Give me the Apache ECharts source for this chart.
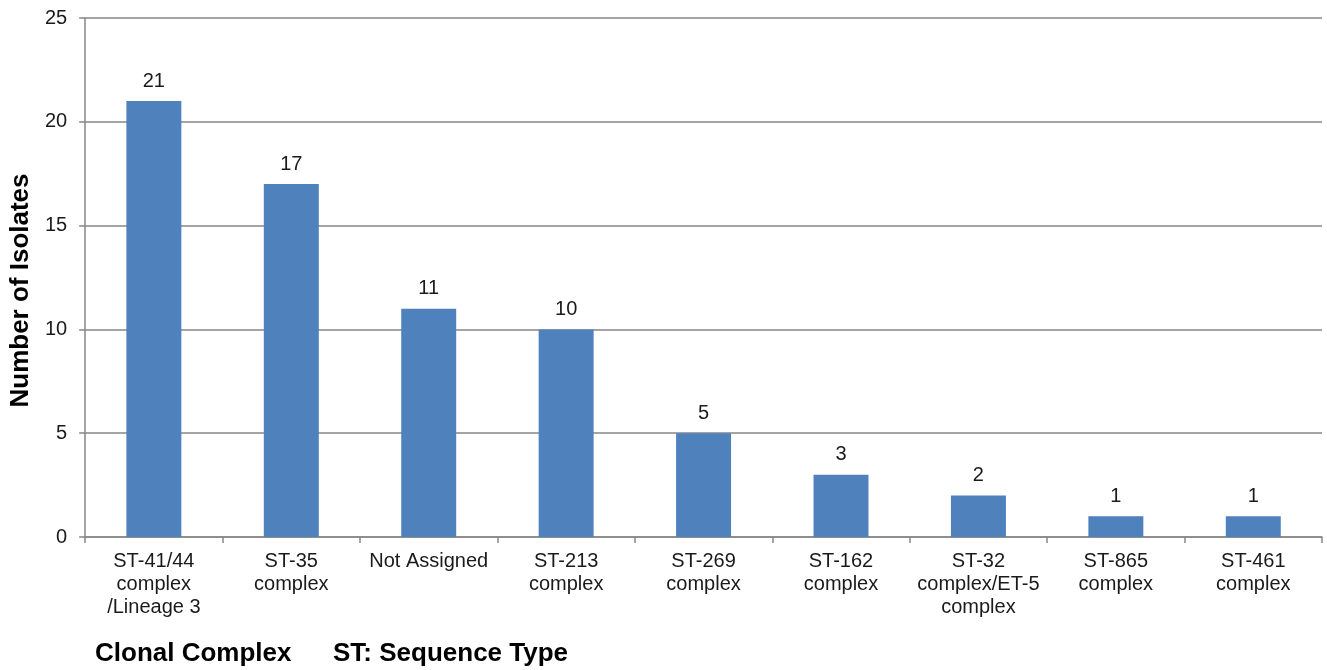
<!DOCTYPE html>
<html><head><meta charset="utf-8">
<script src="https://cdn.jsdelivr.net/npm/echarts@6/dist/echarts.min.js"></script>
<style>html,body{margin:0;padding:0;background:#fff}#c{width:1327px;height:670px}</style>
</head><body><div id="c"></div>
<script>
const categories = ["ST-41/44\ncomplex\n/Lineage 3", "ST-35\ncomplex", "Not Assigned", "ST-213\ncomplex", "ST-269\ncomplex", "ST-162\ncomplex", "ST-32\ncomplex/ET-5\ncomplex", "ST-865\ncomplex", "ST-461\ncomplex"];
const isolates = [21, 17, 11, 10, 5, 3, 2, 1, 1];
const yTicks = [0, 5, 10, 15, 20, 25];

const font = "'Liberation Sans', Arial, sans-serif";
const chart = echarts.init(document.getElementById('c'));
chart.setOption({
  animation: false,
  grid: {left: 84, right: 5, top: 18, bottom: 133, containLabel: false},
  xAxis: {
    type: 'category', data: categories,
    axisLine: {lineStyle: {color: '#868686', width: 1.5}},
    axisTick: {show: true, length: 6, lineStyle: {color: '#868686', width: 1.5}},
    axisLabel: {color: '#1a1a1a', fontSize: 20, fontFamily: font, lineHeight: 23, margin: 13, interval: 0}
  },
  yAxis: {
    type: 'value', min: 0, max: 25, interval: 5,
    name: 'Number of Isolates', nameLocation: 'middle', nameGap: 51,
    nameTextStyle: {fontSize: 26, fontWeight: 'bold', fontFamily: font, color: '#000', padding: [0, 26, 0, 0]},
    axisLine: {show: true, lineStyle: {color: '#868686', width: 1.5}},
    axisTick: {show: true, length: 6, lineStyle: {color: '#868686', width: 1.5}},
    splitLine: {lineStyle: {color: '#868686', width: 1.5}},
    axisLabel: {color: '#1a1a1a', fontSize: 20, fontFamily: font, margin: 18,
      formatter: v => yTicks.includes(v) ? String(v) : ''}
  },
  series: [{
    type: 'bar', data: isolates, barWidth: '40%',
    itemStyle: {color: '#4f81bd'},
    label: {show: true, position: 'top', distance: 10, color: '#1a1a1a', fontSize: 20, fontFamily: font}
  }],
  graphic: [{
    type: 'text', x: 95, y: 654,
    style: {text: 'Clonal Complex', font: "bold 26px 'Liberation Sans', Arial, sans-serif", fill: '#000', textVerticalAlign: 'middle'}
  }, {
    type: 'text', x: 333, y: 654,
    style: {text: 'ST: Sequence Type', font: "bold 26px 'Liberation Sans', Arial, sans-serif", fill: '#000', textVerticalAlign: 'middle'}
  }]
});
</script></body></html>
